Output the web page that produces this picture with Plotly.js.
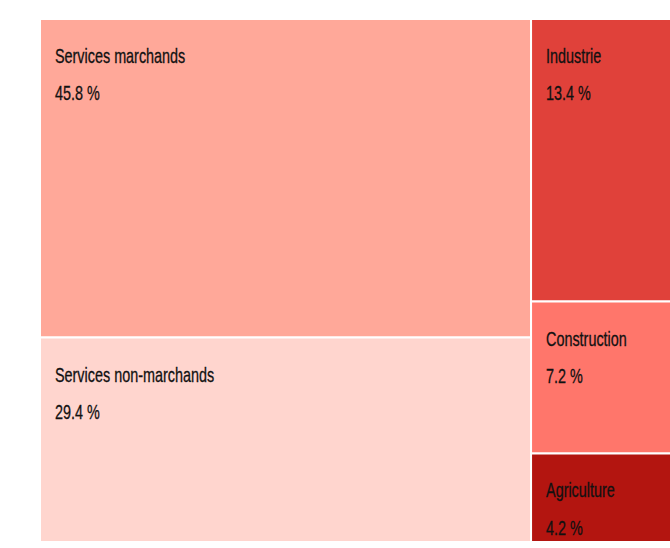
<!DOCTYPE html>
<html>
<head>
<meta charset="utf-8">
<script src="https://cdn.plot.ly/plotly-3.0.1.min.js"></script>
<style>
html,body{margin:0;padding:0;overflow:hidden;background:#fff;}
#chart{width:693px;height:548px;}
#chart g.slice text{stroke:#111111;stroke-width:0.3px;}
</style>
</head>
<body>
<div id="chart"></div>
<script>
// Data
var groups = ["Services", "Autres"];
var labels = ["Services marchands", "Services non-marchands", "Industrie", "Construction", "Agriculture"];
var parents = ["Services", "Services", "Autres", "Autres", "Autres"];
var shares = [45.8, 29.4, 13.4, 7.2, 4.2];
var colors = ["#FFA899", "#FFD5CE", "#E0413A", "#FF766B", "#B31510"];

var NB = "\u00a0\u00a0\u00a0";
var ids = [], lab = [], par = [], vals = [], cols = [], tmpl = [];
groups.forEach(function (g) {
  var sum = 0;
  labels.forEach(function (l, i) { if (parents[i] === g) sum += shares[i]; });
  ids.push(g); lab.push(""); par.push(""); vals.push(sum); cols.push("#ffffff"); tmpl.push("");
});
labels.forEach(function (l, i) {
  ids.push(l); lab.push(l); par.push(parents[i]); vals.push(shares[i]); cols.push(colors[i]);
  tmpl.push("<span style=\"font-size:17px\">\u00a0</span><br>" + NB + "%{label}<br><span style=\"baseline-shift:-12px\">" + NB + "%{value:.1f} %</span>");
});

var trace = {
  type: "treemap",
  ids: ids,
  labels: lab,
  parents: par,
  values: vals,
  branchvalues: "total",
  sort: true,
  texttemplate: tmpl,
  textposition: "top left",
  textfont: {family: "Liberation Sans, Arial, sans-serif", size: 20, color: "#111111"},
  marker: {colors: cols, line: {color: "#ffffff", width: 2}, pad: {t: 0, l: 0, r: 0, b: 0}},
  tiling: {packing: "slice-dice", pad: 0},
  pathbar: {visible: false},
  hoverinfo: "none",
  root: {color: "#ffffff"}
};

var layout = {
  width: 693, height: 548,
  margin: {l: 40, r: 0, t: 19, b: 6, pad: 0},
  paper_bgcolor: "#ffffff",
  showlegend: false,
  uniformtext: {mode: "show", minsize: 20}
};

// Condense the text horizontally (the reference uses a condensed typeface)
var SX = 0.72;
function condense(gd) {
  var nodes = gd.querySelectorAll("g.slice text");
  nodes.forEach(function (el) {
    var orig = el.getAttribute("transform") || "";
    var b1 = el.getBoundingClientRect();
    el.setAttribute("transform", orig + " scale(" + SX + ",1)");
    var b2 = el.getBoundingClientRect();
    var dx = b1.left - b2.left;
    el.setAttribute("transform", "translate(" + dx + ",0) " + orig + " scale(" + SX + ",1)");
  });
}
Plotly.newPlot("chart", [trace], layout, {displayModeBar: false, staticPlot: true}).then(condense);
</script>
</body>
</html>
